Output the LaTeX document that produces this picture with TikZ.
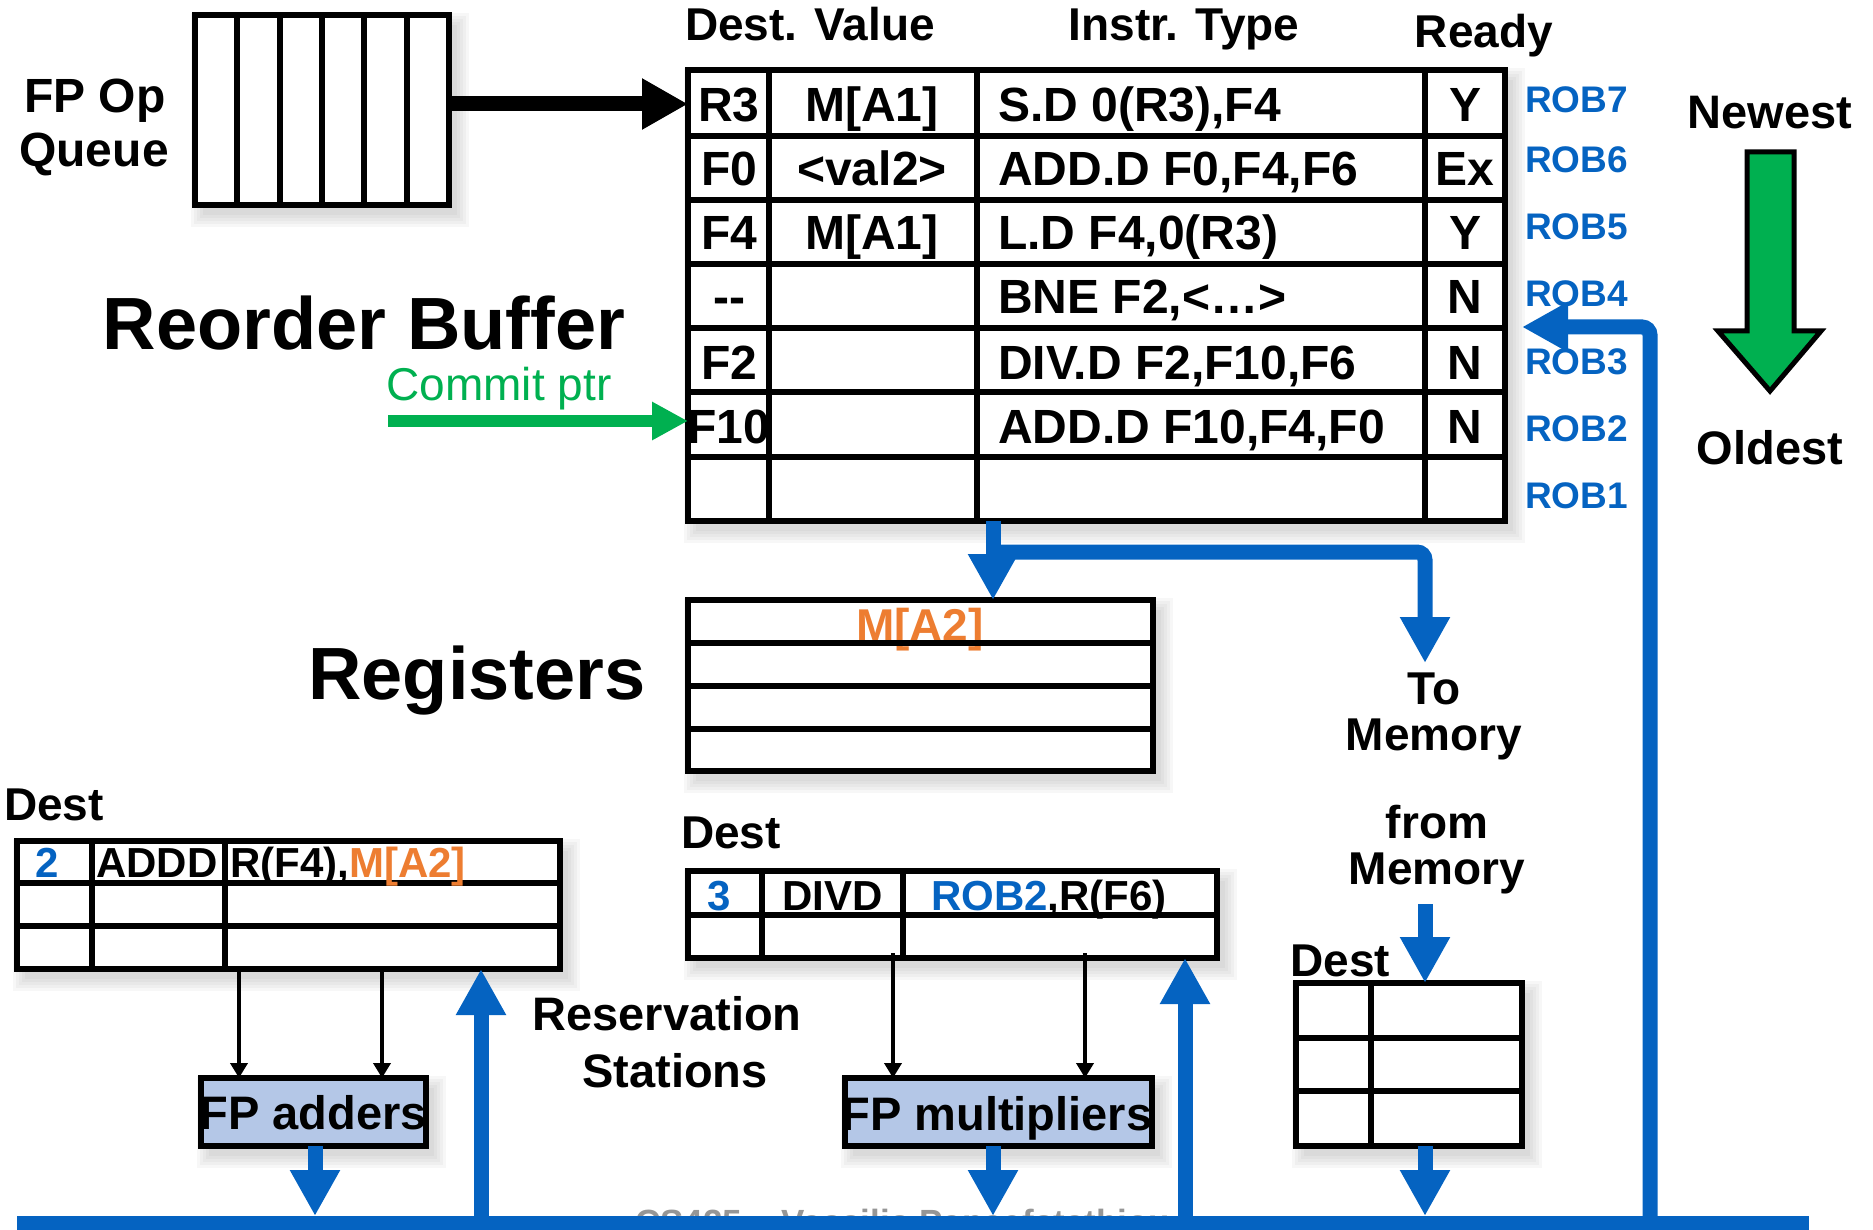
\documentclass[tikz,border=0pt]{standalone}
\usepackage{fontspec}
\setmainfont{Liberation Sans}
\usetikzlibrary{arrows.meta}
\definecolor{robblue}{RGB}{5,99,193}
\definecolor{ptrgreen}{RGB}{0,176,80}
\definecolor{valorange}{RGB}{237,125,49}
\definecolor{unitfill}{RGB}{180,199,231}
\definecolor{wmgray}{RGB}{150,150,150}
\newcommand\fsz[1]{\fontsize{#1}{#1}\selectfont}
\newcommand\softshadow[4]{%
  \foreach \e in {0,3,...,12}{\fill[black,opacity=0.03] (#1+8-\e,#2+10-\e) rectangle (#3+8+\e,#4+10+\e);}}
\tikzset{
  tbox/.style={draw=black, line width=5.5pt, fill=white, inner sep=0pt, outer sep=0pt, anchor=north west},
  gridline/.style={line width=5.5pt},
  cell/.style={font=\bfseries\fsz{48}, inner sep=0pt, anchor=base},
  cellw/.style={font=\bfseries\fsz{48}, inner sep=0pt, anchor=base west},
  hdr/.style={font=\bfseries\fsz{46}, inner sep=0pt, anchor=base},
  hdrw/.style={font=\bfseries\fsz{46}, inner sep=0pt, anchor=base west},
  lbl/.style={font=\bfseries\fsz{47}, inner sep=0pt, anchor=base},
  lbltwo/.style={font=\bfseries\fontsize{46}{46}\selectfont, inner sep=0pt, align=center, anchor=center},
  big/.style={font=\bfseries\fsz{74}, inner sep=0pt, anchor=base},
  roblbl/.style={font=\bfseries\fsz{37}, text=robblue, inner sep=0pt, anchor=base west},
  rscell/.style={font=\bfseries\fsz{42}, inner sep=0pt, anchor=base},
  rscellw/.style={font=\bfseries\fsz{42}, inner sep=0pt, anchor=base west},
  busarrow/.style={draw=robblue, line width=15pt, -{Triangle[length=46pt,width=47pt]}},
  thinarrow/.style={draw=black, line width=4pt, -{Triangle[length=15pt,width=17pt]}},
}
\begin{document}
\begin{tikzpicture}[x=1pt,y=-1pt]
\useasboundingbox (0,0) rectangle (1873,1230);
\clip (0,0) rectangle (1873,1230);

% watermark (mostly hidden behind the bus)
\node[font=\bfseries\fsz{35}, text=wmgray, anchor=base west, inner sep=0pt] (wm) at (635,1234) {CS425 – Vassilis Papaefstathiou};

% shadows
\softshadow{195}{15}{449}{205}
\softshadow{688}{70}{1505}{521}
\softshadow{688}{600}{1153}{771}
\softshadow{17}{841}{560}{969}
\softshadow{688}{871}{1217}{958}
\softshadow{1296}{983}{1522}{1146}
\softshadow{201}{1078}{426}{1146}
\softshadow{845}{1078}{1152}{1146}

% ---------- boxes ----------
\node[tbox, minimum width=254pt, minimum height=190pt] (queue) at (195,15) {};
\foreach \x in {237,280,322,364,407} \draw[gridline] (\x,15) -- (\x,205);

\node[tbox, minimum width=817pt, minimum height=451pt] (rob) at (688,70) {};
\foreach \x in {769,977,1425} \draw[gridline] (\x,70) -- (\x,521);
\foreach \y in {136,200,264,328,392,457} \draw[gridline] (688,\y) -- (1505,\y);

\node[tbox, minimum width=465pt, minimum height=171pt] (regs) at (688,600) {};
\node[font=\bfseries\fsz{46}, text=valorange, inner sep=0pt, anchor=base] (regval) at (920,641) {M[A2]};
\foreach \y in {643,686,729} \draw[gridline] (688,\y) -- (1153,\y);

\node[tbox, minimum width=543pt, minimum height=128pt] (rs1) at (17,841) {};
\foreach \x in {92,225} \draw[gridline] (\x,841) -- (\x,969);
\foreach \y in {883,926} \draw[gridline] (17,\y) -- (560,\y);

\node[tbox, minimum width=529pt, minimum height=87pt] (rs2) at (688,871) {};
\foreach \x in {762,903} \draw[gridline] (\x,871) -- (\x,958);
\draw[gridline] (688,915) -- (1217,915);

\node[tbox, minimum width=226pt, minimum height=163pt] (mem) at (1296,983) {};
\draw[gridline] (1371,983) -- (1371,1146);
\foreach \y in {1038,1091} \draw[gridline] (1296,\y) -- (1522,\y);

\node[tbox, fill=unitfill, minimum width=225pt, minimum height=68pt] (fpadd) at (201,1078) {};
\node[tbox, fill=unitfill, minimum width=307pt, minimum height=68pt] (fpmul) at (845,1078) {};

% ---------- texts ----------
\node[cell] (fpop) at (95,113) {FP Op};
\node[cell] (queuelbl) at (94,167) {Queue};

\node[hdr] (hdest) at (810,41) {Dest. Value};
\node[hdr] (hinstr) at (1184,41) {Instr. Type};
\node[hdr] (hready) at (1484,48) {Ready};

\node[cell] (d7) at (729,122) {R3};
\node[cell] (d6) at (729,186) {F0};
\node[cell] (d5) at (729,250) {F4};
\node[cell] (d4) at (729,314) {-{}-};
\node[cell] (d3) at (729,379) {F2};
\node[cell] (d2) at (729,443) {F10};

\node[cell] (v7) at (872,122) {M[A1]};
\node[cell] (v6) at (872,186) {<val2>};
\node[cell] (v5) at (872,250) {M[A1]};

\node[cellw] (i7) at (998,122) {S.D 0(R3),F4};
\node[cellw] (i6) at (998,186) {ADD.D F0,F4,F6};
\node[cellw] (i5) at (998,250) {L.D F4,0(R3)};
\node[cellw] (i4) at (998,314) {BNE F2,<…>};
\node[cellw] (i3) at (998,379) {DIV.D F2,F10,F6};
\node[cellw] (i2) at (998,443) {ADD.D F10,F4,F0};

\node[cell] (r7) at (1465,122) {Y};
\node[cell] (r6) at (1465,186) {Ex};
\node[cell] (r5) at (1465,250) {Y};
\node[cell] (r4) at (1465,314) {N};
\node[cell] (r3) at (1465,379) {N};
\node[cell] (r2) at (1465,443) {N};

\node[roblbl] (rob7) at (1525,113) {ROB7};
\node[roblbl] (rob6) at (1525,173) {ROB6};
\node[roblbl] (rob5) at (1525,240) {ROB5};
\node[roblbl] (rob4) at (1525,307) {ROB4};
\node[roblbl] (rob3) at (1525,374) {ROB3};
\node[roblbl] (rob2) at (1525,441) {ROB2};
\node[roblbl] (rob1) at (1525,508) {ROB1};

\node[big] (robtitle) at (364,349) {Reorder Buffer};
\node[font=\fsz{46}, text=ptrgreen, inner sep=0pt, anchor=base] (commit) at (499,400) {Commit ptr};
\node[big] (regtitle) at (477,699) {Registers};

\node[lbl] (newest) at (1770,129) {Newest};
\node[lbl] (oldest) at (1770,464) {Oldest};

\node[lbltwo] (tomemlbl) at (1434,716) {To\\Memory};
\node[lbltwo] (frommemlbl) at (1437,850) {from\\Memory};

\node[hdrw] (dest1) at (4,820) {Dest};
\node[hdrw] (dest2) at (681,848) {Dest};
\node[hdrw] (dest3) at (1290,976) {Dest};

\node[rscell, text=robblue] (rs1d) at (47,877) {2};
\node[rscellw] (rs1op) at (96,877) {ADDD};
\node[rscellw] (rs1v) at (230,877) {R(F4),\textcolor{valorange}{M[A2]}};

\node[rscell, text=robblue] (rs2d) at (719,910) {3};
\node[rscellw] (rs2op) at (782,910) {DIVD};
\node[rscellw] (rs2v) at (931,910) {\textcolor{robblue}{ROB2},R(F6)};

\node[lbl] (resv1) at (667,1030) {Reservation};
\node[lbl] (resv2) at (675,1087) {Stations};

\node[lbl] (fpaddtxt) at (313,1129) {FP adders};
\node[lbl] (fpmultxt) at (997,1130) {FP multipliers};

% ---------- Newest -> Oldest arrow ----------
\draw[line width=5pt, fill=ptrgreen, line join=miter]
  (1747,152) -- (1794,152) -- (1794,331) -- (1821,331) -- (1770,391) -- (1718,331) -- (1747,331) -- cycle;

% ---------- connectors ----------
\coordinate (qout) at (449,104);
\draw[line width=15pt, -{Triangle[length=46pt,width=48pt]}] (qout) -- (rob.west |- qout);

\coordinate (cp) at (388,421);
\draw[draw=ptrgreen, line width=12pt, -{Triangle[length=36pt,width=36pt]}] (cp) -- (rob.west |- cp);

\coordinate (robout) at (993,521);
\draw[busarrow] (robout) -- (regs.north -| robout);
\coordinate (split) at (993,552);
\coordinate (tomem) at (1425,663);
\draw[busarrow, rounded corners=8pt] (split) -| (tomem);

\coordinate (frommem) at (1425,904);
\draw[busarrow] (frommem) -- (mem.north -| frommem);

\draw[thinarrow] (rs1.south -| 239,0) -- (fpadd.north -| 239,0);
\draw[thinarrow] (rs1.south -| 382,0) -- (fpadd.north -| 382,0);
\draw[thinarrow] (893,953) -- (fpmul.north -| 893,0);
\draw[thinarrow] (1085,953) -- (fpmul.north -| 1085,0);

% common data bus
\node[fill=robblue, inner sep=0pt, outer sep=0pt, anchor=north west, minimum width=1792pt, minimum height=20pt] (bus) at (17,1216) {};

\draw[busarrow] (fpadd.south -| 315,0) -- (bus.north -| 315,0);
\draw[busarrow] (fpmul.south -| 993,0) -- (bus.north -| 993,0);
\draw[busarrow] (mem.south -| 1425,0) -- (bus.north -| 1425,0);
\draw[busarrow] (bus.center -| 481,0) -- (rs1.south -| 481,0);
\draw[busarrow] (bus.center -| 1185,0) -- (rs2.south -| 1185,0);
\coordinate (robin) at (1522,327);
\draw[busarrow, rounded corners=8pt] (bus.center -| 1650,0) |- (robin);
\end{tikzpicture}
\end{document}
